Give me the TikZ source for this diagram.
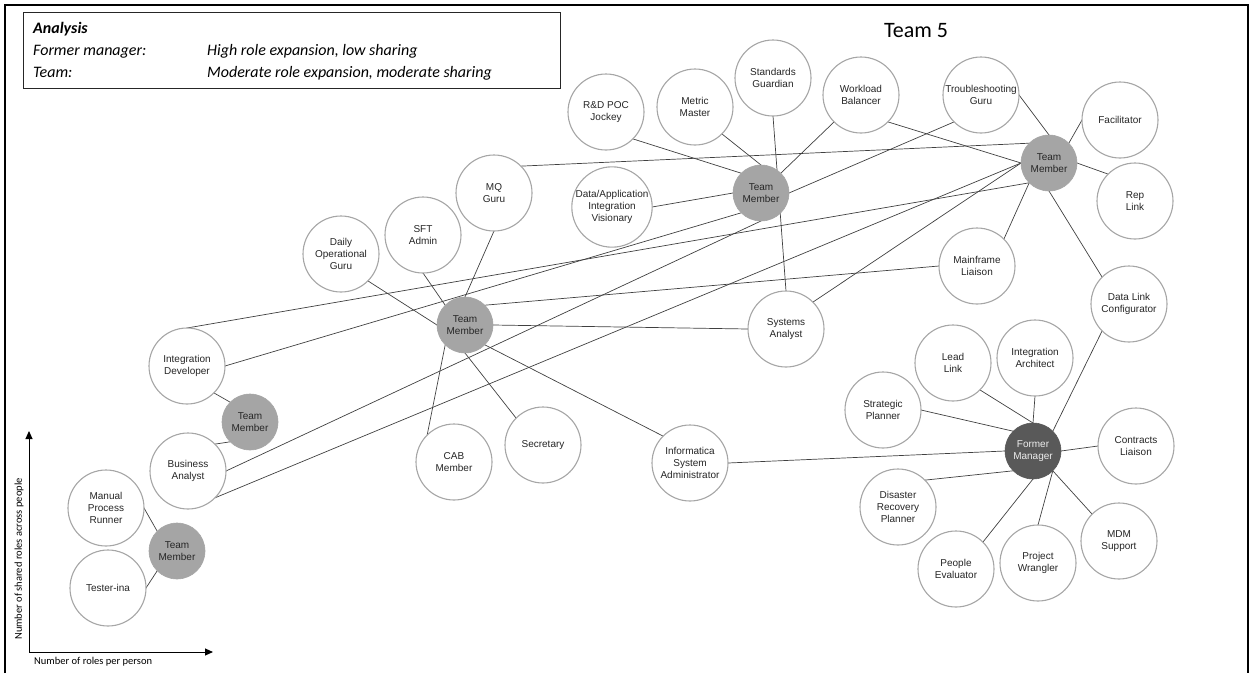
\documentclass[tikz,border=0pt]{standalone}
\usepackage{fontspec}
\setmainfont{Liberation Sans}
\newfontfamily\calib{Carlito}
\usetikzlibrary{arrows.meta,backgrounds}

\definecolor{roleline}{HTML}{A6A6A6}
\definecolor{roletext}{HTML}{262626}
\definecolor{membergray}{HTML}{A5A5A5}
\definecolor{mgrgray}{HTML}{595959}
\definecolor{mgrtext}{HTML}{EDEDED}
\definecolor{linkcol}{HTML}{404040}

\newcommand\rolefont{\fontsize{10}{12.3}\selectfont}

\tikzset{
  role/.style={circle, draw=roleline, line width=1.1pt, fill=white,
    minimum size=76pt, inner sep=0pt, outer sep=0pt, align=center,
    font=\rolefont, text=roletext},
  member/.style={circle, draw=membergray, line width=0.6pt, fill=membergray,
    minimum size=56pt, inner sep=0pt, outer sep=0pt, align=center,
    font=\rolefont, text=roletext},
  manager/.style={member, draw=mgrgray, fill=mgrgray, text=mgrtext},
  link/.style={draw=linkcol, line width=0.7pt},
  axis/.style={line width=1pt, -{Triangle[length=8pt,width=7pt]}},
  note/.style={font=\calib\itshape\fontsize{16}{18}\selectfont, anchor=base west, inner sep=0pt}
}

\begin{document}
\begin{tikzpicture}[x=1pt,y=-1pt]
\useasboundingbox (0,0) rectangle (1254,673);

% outer frame, open at the bottom
\draw[line width=2pt] (5,673) -- (5,5) -- (1248,5) -- (1248,673);

% analysis box
\node[draw=black!85, line width=1.2pt, minimum width=537pt, minimum height=76pt,
      inner sep=0pt, anchor=north west] (box) at (23,12) {};
\node[note, font=\calib\bfseries\itshape\fontsize{16}{18}\selectfont] (an) at (33,33) {Analysis};
\node[note] (fml) at (33,55) {Former manager:};
\node[note] (fmv) at (207,55) {High role expansion, low sharing};
\node[note] (tml) at (33,77) {Team:};
\node[note] (tmv) at (207,77) {Moderate role expansion, moderate sharing};

% title
\node[font=\calib\fontsize{22}{24}\selectfont, anchor=base, inner sep=0pt] (title) at (916,37) {Team 5};

% roles and people
\node[role] (rd)  at (606,112) {R\&D POC\\Jockey};
\node[role] (mm)  at (695,107) {Metric\\Master};
\node[role] (sg)  at (773,78)  {Standards\\Guardian};
\node[role] (wb)  at (861,95)  {Workload\\Balancer};
\node[role] (tg)  at (981,95)  {Troubleshooting\\Guru};
\node[role] (fac) at (1120,120) {Facilitator};
\node[role] (rl)  at (1135,201) {Rep\\Link};
\node[role] (ml)  at (977,266) {Mainframe\\Liaison};
\node[role] (dlc) at (1129,304) {Data Link\\Configurator};
\node[role] (dai) at (612,207) {Data/Application\\Integration\\Visionary};
\node[role] (mq)  at (494,193) {MQ\\Guru};
\node[role] (sft) at (423,235) {SFT\\Admin};
\node[role] (dog) at (341,254) {Daily\\Operational\\Guru};
\node[role] (sa)  at (786,329) {Systems\\Analyst};
\node[role] (id)  at (187,366) {Integration\\Developer};
\node[role] (ba)  at (188,471) {Business\\Analyst};
\node[role] (mpr) at (106,508) {Manual\\Process\\Runner};
\node[role] (tst) at (108,588) {Tester-ina};
\node[role] (cab) at (454,462) {CAB\\Member};
\node[role] (sec) at (543,445) {Secretary};
\node[role] (isa) at (690,463) {Informatica\\System\\Administrator};
\node[role] (sp)  at (883,410) {Strategic\\Planner};
\node[role] (ll)  at (953,363) {Lead\\Link};
\node[role] (ia)  at (1035,358) {Integration\\Architect};
\node[role] (cl)  at (1136,446) {Contracts\\Liaison};
\node[role] (drp) at (898,507) {Disaster\\Recovery\\Planner};
\node[role] (pe)  at (956,569) {People\\Evaluator};
\node[role] (pw)  at (1038,563) {Project\\Wrangler};
\node[role] (mdm) at (1119,541) {MDM\\Support};

\node[member] (tma) at (761,193) {Team\\Member};
\node[member] (tmb) at (1049,163) {Team\\Member};
\node[member] (tmc) at (465,325) {Team\\Member};
\node[member] (tmd) at (250,422) {Team\\Member};
\node[member] (tme) at (177,551) {Team\\Member};
\node[manager] (fm) at (1033,451) {Former\\Manager};

% connectors, behind the circles
\begin{scope}[on background layer]
\draw[link] (rd.south east) -- (tma.north west);
\draw[link] (mm.south east) -- (tma.north);
\draw[link] (wb.south west) -- (tma.north east);
\draw[link] (sg.south) -- (sa.north);
\draw[link] (dai.east) -- (tma.west);
\draw[link] (tg.south west) -- (tma.east);
\draw[link] (mq.north east) -- (tmb.north west);
\draw[link] (wb.south east) -- (tmb.west);
\draw[link] (tg.east) -- (tmb.north);
\draw[link] (fac.west) -- (tmb.north east);
\draw[link] (rl.north west) -- (tmb.east);
\draw[link] (ml.north east) -- (tmb.south west);
\draw[link] (dlc.north west) -- (tmb.south);
\draw[link] (dlc.south west) -- (fm.north east);
\draw[link] (id.north) -- (tmb.south west);
\draw[link] (id.east) -- (tma.south west);
\draw[link] (ba.east) -- (tma.south);
\draw[link] (ba.south east) -- (tmb.west);
\draw[link] (sa.north east) -- (tmb.west);
\draw[link] (mq.south) -- (tmc.north);
\draw[link] (sft.south) -- (tmc.north west);
\draw[link] (dog.south east) -- (tmc.west);
\draw[link] (tmc.north east) -- (ml.west);
\draw[link] (tmc.east) -- (sa.west);
\draw[link] (tmc.south west) -- (cab.north west);
\draw[link] (tmc.south) -- (sec.north west);
\draw[link] (tmc.south east) -- (isa.north west);
\draw[link] (isa.east) -- (fm.west);
\draw[link] (id.south east) -- (tmd.north west);
\draw[link] (tmd.south west) -- (ba.north east);
\draw[link] (mpr.east) -- (tme.north west);
\draw[link] (tst.east) -- (tme.south west);
\draw[link] (sp.east) -- (fm.north west);
\draw[link] (ll.south east) -- (fm.north);
\draw[link] (ia.south) -- (fm.north);
\draw[link] (cl.west) -- (fm.east);
\draw[link] (drp.north east) -- (fm.south west);
\draw[link] (pe.north east) -- (fm.south);
\draw[link] (pw.north) -- (fm.south east);
\draw[link] (mdm.north west) -- (fm.south east);
\end{scope}

% axes
\coordinate (origin) at (29,652);
\coordinate (ytip) at (29,431);
\coordinate (xtip) at (213,652);
\draw[axis] (origin) -- (ytip);
\draw[axis] (origin) -- (xtip);
\node[font=\calib\fontsize{10.5}{12}\selectfont, anchor=west, inner sep=0pt] (xlab) at (34,662) {Number of roles per person};
\node[font=\calib\fontsize{10.5}{12}\selectfont, rotate=90, inner sep=0pt] (ylab) at (19,559) {Number of shared roles across people};
\end{tikzpicture}
\end{document}
